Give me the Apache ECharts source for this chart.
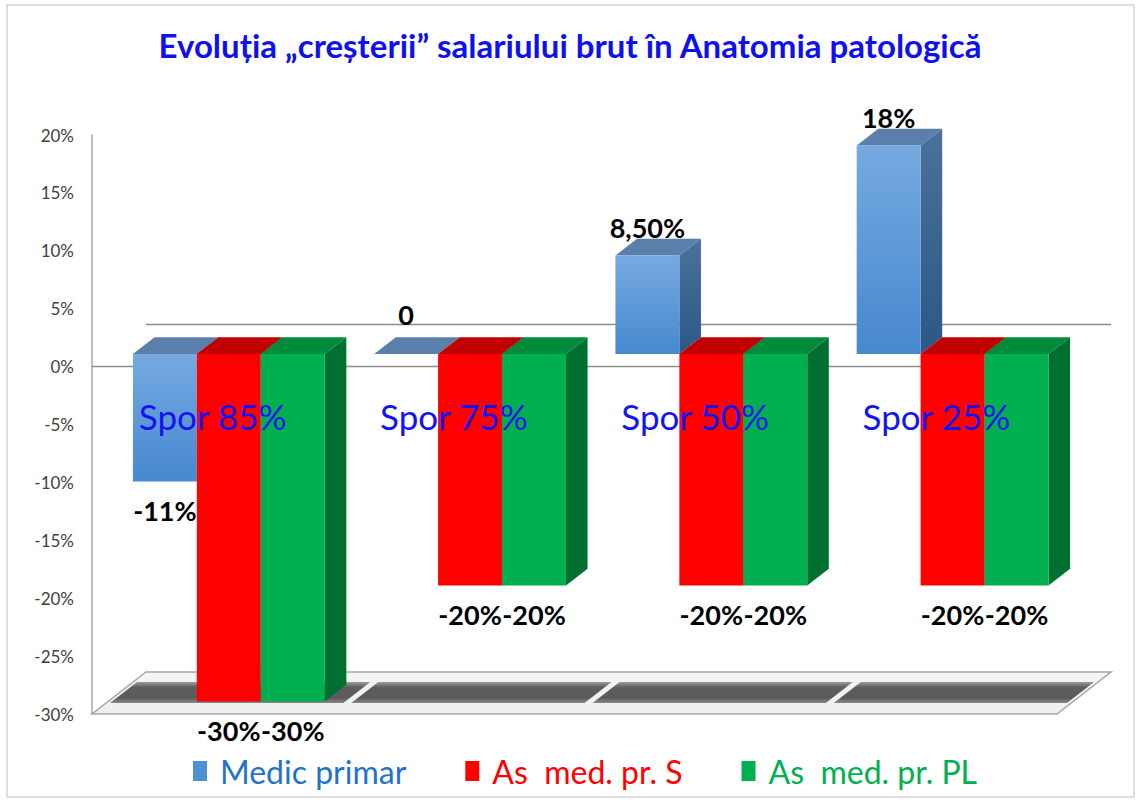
<!DOCTYPE html>
<html><head><meta charset="utf-8">
<script src="https://cdn.jsdelivr.net/npm/echarts@6/dist/echarts.min.js"></script>
<style>html,body{margin:0;padding:0;background:#fff}#c{width:1140px;height:801px}</style>
</head><body><div id="c"></div>
<script>
// ---- data ----
const categories = ['Spor 85%', 'Spor 75%', 'Spor 50%', 'Spor 25%'];
const seriesNames = ['Medic primar', 'As  med. pr. S', 'As  med. pr. PL'];
const medicPrimar = [-11, 0, 8.5, 18];
const asMedS = [-30, -20, -20, -20];
const asMedPL = [-30, -20, -20, -20];
const medicLabels = ['-11%', '0', '8,50%', '18%'];
const asMedSLabels = ['-30%', '-20%', '-20%', '-20%'];
const asMedPLLabels = ['-30%', '-20%', '-20%', '-20%'];
const yMin = -30, yMax = 20, yStep = 5;

// ---- 3D look ----
const DEPTH_X = 54, DEPTH_Y = -42;
const FRONT = 0.3, BACK = 0.7;
const G = echarts.graphic;
const vgrad = (a, b) => new G.LinearGradient(0, 0, 0, 1, [{offset: 0, color: a}, {offset: 1, color: b}]);

const palettes = [
  {front: () => vgrad('#75AAE0', '#4788CF'), side: () => vgrad('#4A719B', '#2B5886'), top: () => '#5A7FAA', legend: '#4F8FD4', text: '#2472C8'},
  {front: () => '#FF0000', side: () => '#C00000', top: () => '#C00000', legend: '#FF0000', text: '#FF0000'},
  {front: () => '#00B050', side: () => '#007030', top: () => '#008A3C', legend: '#00B050', text: '#00B050'}
];

function barRenderer(idx, labels) {
  const pal = palettes[idx];
  return function (params, api) {
    const cat = api.value(0), v = api.value(1);
    const band = api.size([1, 0])[0];
    const w = band * 0.265;
    const c0 = api.coord([cat, 0]);
    const cv = api.coord([cat, v]);
    const ox = FRONT * DEPTH_X, oy = FRONT * DEPTH_Y;
    const dx = (BACK - FRONT) * DEPTH_X, dy = (BACK - FRONT) * DEPTH_Y;
    const x0 = c0[0] + (idx - 1) * w - w / 2 + ox;
    const x1 = x0 + w;
    const yZero = c0[1] + oy, yVal = cv[1] + oy;
    const yTop = Math.min(yZero, yVal), yBot = Math.max(yZero, yVal);
    const children = [];
    if (yBot > yTop) {
      children.push({type: 'polygon', shape: {points: [[x1, yTop], [x1 + dx, yTop + dy], [x1 + dx, yBot + dy], [x1, yBot]]}, style: {fill: pal.side()}});
    }
    children.push({type: 'polygon', shape: {points: [[x0, yTop], [x0 + dx, yTop + dy], [x1 + dx, yTop + dy], [x1, yTop]]}, style: {fill: pal.top()}});
    if (yBot > yTop) {
      children.push({type: 'rect', shape: {x: x0, y: yTop, width: w, height: yBot - yTop}, style: {fill: pal.front()}});
    }
    const lx = (x0 + x1) / 2;
    const ly = v > 0 ? yTop - 28 : (v < 0 ? yBot + 29 : yTop - 40);
    children.push({type: 'text', z2: 100, style: {text: labels[params.dataIndex], x: lx, y: ly, align: 'center', verticalAlign: 'middle', fontSize: 27, fontWeight: 'bold', fontFamily: 'Lato', fill: '#000'}});
    return {type: 'group', children};
  };
}

function sceneRenderer(params, api) {
  const cs = params.coordSys;
  const gx = cs.x, gw = cs.width, gb = cs.y + cs.height;
  const cat = api.value(0);
  const band = api.size([1, 0])[0];
  const children = [];
  const P = (x, t) => [x + t * DEPTH_X, gb + t * DEPTH_Y];
  if (params.dataIndex === 0) {
    const yz = api.coord([0, 0])[1];
    children.push({type: 'line', shape: {x1: gx + DEPTH_X, y1: yz + DEPTH_Y, x2: gx + gw + DEPTH_X, y2: yz + DEPTH_Y}, style: {stroke: '#8C8C8C', lineWidth: 1.5}});
    children.push({type: 'line', shape: {x1: gx, y1: yz, x2: gx + gw, y2: yz}, style: {stroke: '#8C8C8C', lineWidth: 1.5}});
    children.push({type: 'polygon', shape: {points: [P(gx, 0), P(gx + gw, 0), P(gx + gw, 1), P(gx, 1)]},
      style: {fill: vgrad('#F6F6F6', '#EEEEEE'), stroke: '#A6A6A6', lineWidth: 1.5}});
  }
  const cx = api.coord([cat, 0])[0];
  const l = cx - band / 2 + 4, r = cx + band / 2 - 4;
  children.push({type: 'polygon', shape: {points: [P(l, 0.26), P(r, 0.26), P(r, 0.76), P(l, 0.76)]},
    style: {fill: new G.LinearGradient(0, 0, 0, 1, [
      {offset: 0, color: '#9A9A9A'}, {offset: 0.25, color: '#5E5E5E'},
      {offset: 0.75, color: '#5A5A5A'}, {offset: 1, color: '#8A8A8A'}])}});
  return {type: 'group', children};
}

const chart = echarts.init(document.getElementById('c'), null, {renderer: 'svg'});
chart.setOption({
  backgroundColor: '#fff',
  animation: false,
  title: {
    text: 'Evoluția „creșterii” salariului brut în Anatomia patologică',
    left: 'center', top: 23,
    textStyle: {fontFamily: 'Lato', fontSize: 33, fontWeight: 'bold', color: '#1010EE'}
  },
  graphic: [{type: 'rect', shape: {x: 7, y: 5, width: 1127, height: 792}, style: {fill: 'none', stroke: '#D4D4D4', lineWidth: 1.5}, z: -10}],
  legend: {
    left: 188, top: 750,
    itemWidth: 14, itemHeight: 20, itemGap: 59, icon: 'rect',
    textStyle: {fontFamily: 'Lato', fontSize: 32, padding: [0, 0, 0, 8]},
    data: seriesNames.map((n, i) => ({name: n, itemStyle: {color: palettes[i].legend}, textStyle: {color: palettes[i].text}}))
  },
  grid: {left: 92, right: 83, top: 135, bottom: 87, containLabel: false, outerBoundsMode: 'none'},
  xAxis: {
    type: 'category', data: categories, z: 10,
    axisLine: {show: false}, axisTick: {show: false}, splitLine: {show: false},
    axisLabel: {margin: -316, color: '#1414F0', fontFamily: 'Lato', fontSize: 35}
  },
  yAxis: {
    type: 'value', min: yMin, max: yMax, interval: yStep,
    axisLine: {show: true, lineStyle: {color: '#A6A6A6', width: 1.5}},
    axisTick: {show: false}, splitLine: {show: false},
    axisLabel: {formatter: '{value}%', color: '#404040', fontFamily: 'Lato', fontSize: 17, margin: 18}
  },
  series: [
    {type: 'custom', name: '_scene', z: 1, silent: true, renderItem: sceneRenderer, data: categories.map((c, i) => [i, 0])},
    {type: 'custom', name: seriesNames[0], z: 2, itemStyle: {color: palettes[0].legend}, renderItem: barRenderer(0, medicLabels), data: medicPrimar.map((v, i) => [i, v])},
    {type: 'custom', name: seriesNames[1], z: 2, itemStyle: {color: palettes[1].legend}, renderItem: barRenderer(1, asMedSLabels), data: asMedS.map((v, i) => [i, v])},
    {type: 'custom', name: seriesNames[2], z: 2, itemStyle: {color: palettes[2].legend}, renderItem: barRenderer(2, asMedPLLabels), data: asMedPL.map((v, i) => [i, v])}
  ]
});
</script></body></html>
